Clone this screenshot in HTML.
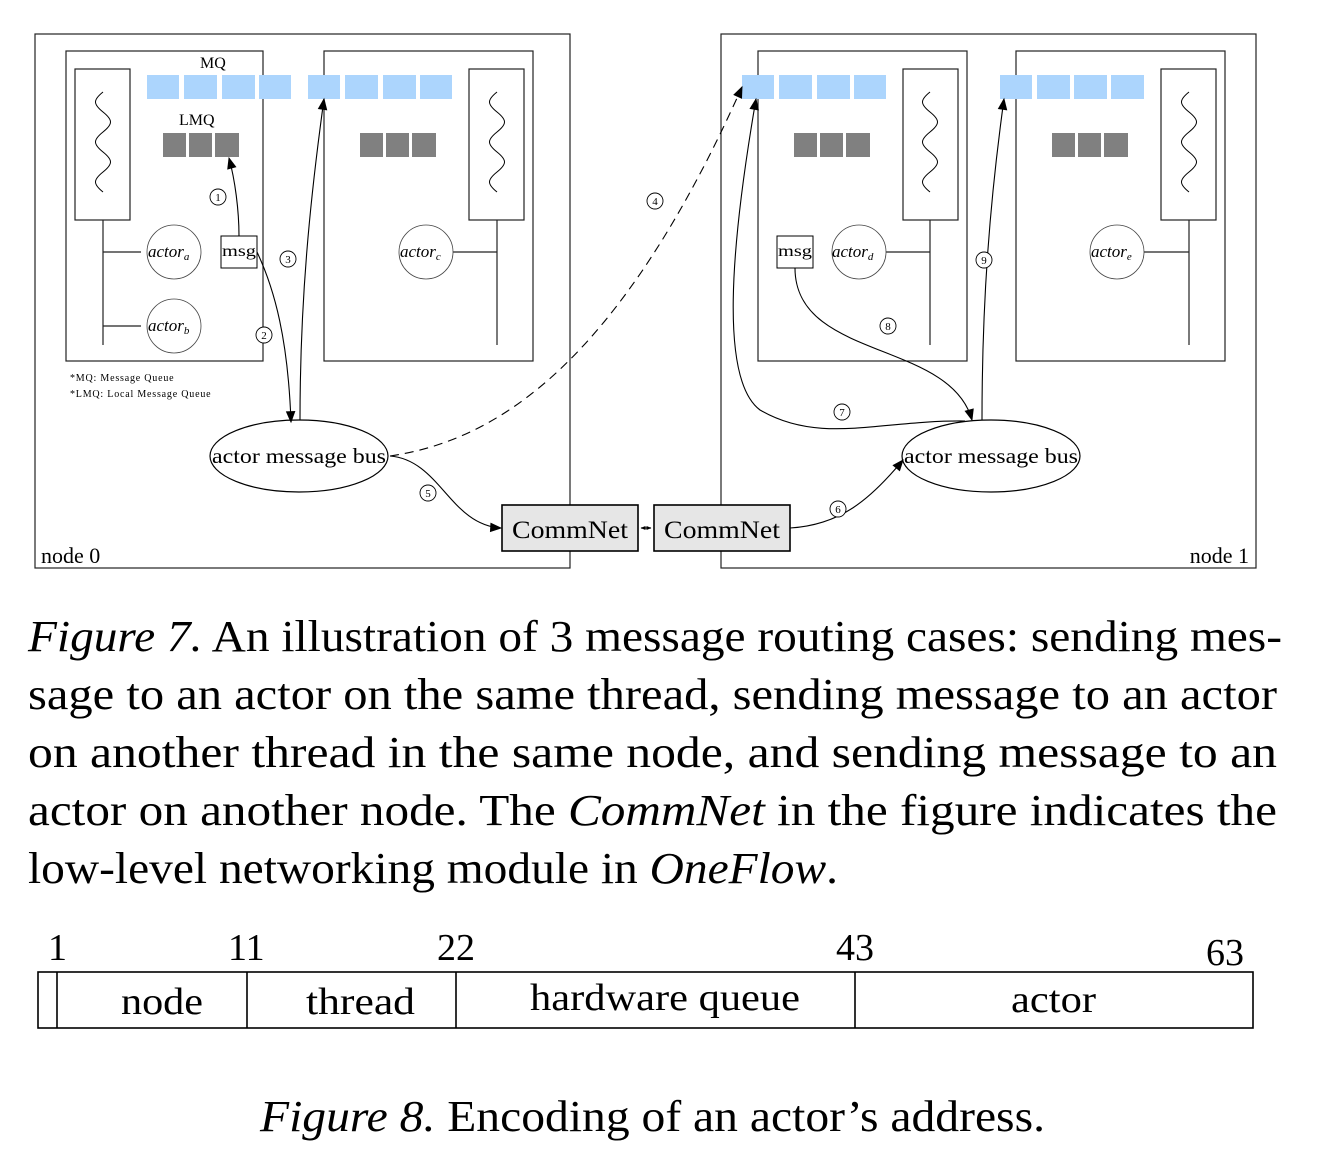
<!DOCTYPE html>
<html><head><meta charset="utf-8"><style>
html,body{margin:0;padding:0;background:#fff;}
svg{display:block;}
text{font-family:"Liberation Serif",serif;fill:#000;}
</style></head><body>
<svg width="1328" height="1153" viewBox="0 0 1328 1153" xmlns="http://www.w3.org/2000/svg">
<defs>
<marker id="ah2" viewBox="0 0 10 10" refX="9" refY="5" markerWidth="14" markerHeight="12" markerUnits="userSpaceOnUse" orient="auto"><path d="M0,1 L10,5 L0,9 z" fill="#000"/></marker>
<marker id="sm" viewBox="0 0 10 10" refX="9" refY="5" markerWidth="5" markerHeight="5" markerUnits="userSpaceOnUse" orient="auto"><path d="M0,1 L10,5 L0,9 z" fill="#000"/></marker>
</defs>
<g fill="none" stroke="#222" stroke-width="1.2">
<rect x="35" y="34" width="535" height="534"/>
<rect x="721" y="34" width="535" height="534"/>
<rect x="66" y="51" width="197" height="310"/>
<rect x="324" y="51" width="209" height="310"/>
<rect x="758" y="51" width="209" height="310"/>
<rect x="1016" y="51" width="209" height="310"/>
<rect x="75" y="69" width="55" height="151"/>
<rect x="469" y="69" width="55" height="151"/>
<rect x="903" y="69" width="55" height="151"/>
<rect x="1161" y="69" width="55" height="151"/>
<path d="M103,220V345M103,252H141M103,326H141M497,220V345M452,252H497M930,220V345M885,252H930M1189,220V345M1143,252H1189"/>
</g>
<g fill="none" stroke="#000" stroke-width="1">
<path d="M103,92 c-10,8 -10,12 0,20 c10,8 10,12 0,20 c-10,8 -10,12 0,20 c10,8 10,12 0,20 c-10,8 -10,12 0,20"/>
<path d="M497,92 c-10,8 -10,12 0,20 c10,8 10,12 0,20 c-10,8 -10,12 0,20 c10,8 10,12 0,20 c-10,8 -10,12 0,20"/>
<path d="M930,92 c-10,8 -10,12 0,20 c10,8 10,12 0,20 c-10,8 -10,12 0,20 c10,8 10,12 0,20 c-10,8 -10,12 0,20"/>
<path d="M1189,92 c-10,8 -10,12 0,20 c10,8 10,12 0,20 c-10,8 -10,12 0,20 c10,8 10,12 0,20 c-10,8 -10,12 0,20"/>
</g>
<g fill="#acd5fd">
<rect x="147" y="75" width="32" height="24"/><rect x="184" y="75" width="33" height="24"/><rect x="222" y="75" width="33" height="24"/><rect x="259" y="75" width="32" height="24"/>
<rect x="308" y="75" width="32" height="24"/><rect x="345" y="75" width="33" height="24"/><rect x="383" y="75" width="33" height="24"/><rect x="420" y="75" width="32" height="24"/>
<rect x="742" y="75" width="32" height="24"/><rect x="779" y="75" width="33" height="24"/><rect x="817" y="75" width="33" height="24"/><rect x="854" y="75" width="32" height="24"/>
<rect x="1000" y="75" width="32" height="24"/><rect x="1037" y="75" width="33" height="24"/><rect x="1074" y="75" width="33" height="24"/><rect x="1111" y="75" width="33" height="24"/>
</g>
<g fill="#808080">
<rect x="163" y="133" width="23" height="24"/><rect x="189" y="133" width="23" height="24"/><rect x="215" y="133" width="24" height="24"/>
<rect x="360" y="133" width="23" height="24"/><rect x="386" y="133" width="23" height="24"/><rect x="412" y="133" width="24" height="24"/>
<rect x="794" y="133" width="23" height="24"/><rect x="820" y="133" width="23" height="24"/><rect x="846" y="133" width="24" height="24"/>
<rect x="1052" y="133" width="23" height="24"/><rect x="1078" y="133" width="23" height="24"/><rect x="1104" y="133" width="24" height="24"/>
</g>
<text x="200" y="68" font-size="16">MQ</text>
<text x="179" y="125" font-size="16">LMQ</text>
<g fill="#fff" stroke="#444" stroke-width="0.8">
<circle cx="174" cy="252" r="27"/><circle cx="174" cy="326" r="27"/><circle cx="426" cy="252" r="27"/><circle cx="859" cy="252" r="27"/><circle cx="1117" cy="252" r="27"/>
</g>
<g font-size="17" font-style="italic">
<text x="148" y="257">actor<tspan font-size="11" dy="3">a</tspan></text>
<text x="148" y="331">actor<tspan font-size="11" dy="3">b</tspan></text>
<text x="400" y="257">actor<tspan font-size="11" dy="3">c</tspan></text>
<text x="832" y="257">actor<tspan font-size="11" dy="3">d</tspan></text>
<text x="1091" y="257">actor<tspan font-size="11" dy="3">e</tspan></text>
</g>
<g fill="#fff" stroke="#000" stroke-width="1"><rect x="221" y="236" width="36" height="32"/><rect x="777" y="236" width="36" height="32"/></g>
<text x="222" y="256" font-size="16" textLength="34" lengthAdjust="spacingAndGlyphs">msg</text><text x="778" y="256" font-size="16" textLength="34" lengthAdjust="spacingAndGlyphs">msg</text>
<text x="70" y="381" font-size="10" letter-spacing="0.8">*MQ: Message Queue</text>
<text x="70" y="397" font-size="10" letter-spacing="0.8">*LMQ: Local Message Queue</text>
<g fill="#fff" stroke="#000" stroke-width="1.2"><ellipse cx="299" cy="456" rx="89" ry="36"/><ellipse cx="991" cy="456" rx="89" ry="36"/></g>
<text x="212" y="463" font-size="21" textLength="174" lengthAdjust="spacingAndGlyphs">actor message bus</text>
<text x="904" y="463" font-size="21" textLength="174" lengthAdjust="spacingAndGlyphs">actor message bus</text>
<g fill="#e6e6e6" stroke="#000" stroke-width="1.6"><rect x="502" y="505" width="136" height="46"/><rect x="654" y="505" width="136" height="46"/></g>
<text x="512" y="538" font-size="25" textLength="116" lengthAdjust="spacingAndGlyphs">CommNet</text>
<text x="664" y="538" font-size="25" textLength="116" lengthAdjust="spacingAndGlyphs">CommNet</text>
<text x="41" y="563" font-size="22">node 0</text>
<text x="1249" y="563" font-size="22" text-anchor="end">node 1</text>
<g fill="none" stroke="#000" stroke-width="1.1">
<path d="M239,236 C239,210 235,180 229,158" marker-end="url(#ah2)"/>
<path d="M257,252 C275,290 288,340 291,422" marker-end="url(#ah2)"/>
<path d="M300,420 C300,300 310,200 324,99" marker-end="url(#ah2)"/>
<path d="M390,456 C500,440 620,360 742,87" stroke-dasharray="9,6" marker-end="url(#ah2)"/>
<path d="M390,456 C440,460 450,525 501,528" marker-end="url(#ah2)"/>
<path d="M790,528 C840,525 870,500 903,460" marker-end="url(#ah2)"/>
<path d="M965,421 C880,420 820,445 760,410 C720,380 730,250 756,99" marker-end="url(#ah2)"/>
<path d="M795,268 C795,360 950,340 972,420" marker-end="url(#ah2)"/>
<path d="M982,420 C982,300 990,200 1004,99" marker-end="url(#ah2)"/>
<path d="M641,528 H651" marker-end="url(#sm)"/>
<path d="M651,528 H641" marker-end="url(#sm)"/>
</g>
<g fill="#fff" stroke="#000" stroke-width="0.9">
<circle cx="218" cy="197" r="8"/><circle cx="264" cy="335" r="8"/><circle cx="288" cy="259" r="8"/><circle cx="655" cy="201" r="8"/><circle cx="428" cy="493" r="8"/><circle cx="838" cy="509" r="8"/><circle cx="842" cy="412" r="8"/><circle cx="888" cy="326" r="8"/><circle cx="984" cy="260" r="8"/>
</g>
<g font-size="11" text-anchor="middle">
<text x="218" y="201">1</text><text x="264" y="339">2</text><text x="288" y="263">3</text><text x="655" y="205">4</text><text x="428" y="497">5</text><text x="838" y="513">6</text><text x="842" y="416">7</text><text x="888" y="330">8</text><text x="984" y="264">9</text>
</g>
<g font-size="44">
<text x="28" y="651" textLength="1254" lengthAdjust="spacingAndGlyphs"><tspan font-style="italic">Figure 7.</tspan> An illustration of 3 message routing cases: sending mes-</text>
<text x="28" y="709" textLength="1249" lengthAdjust="spacingAndGlyphs">sage to an actor on the same thread, sending message to an actor</text>
<text x="28" y="767" textLength="1249" lengthAdjust="spacingAndGlyphs">on another thread in the same node, and sending message to an</text>
<text x="28" y="825" textLength="1249" lengthAdjust="spacingAndGlyphs">actor on another node.  The <tspan font-style="italic">CommNet</tspan> in the figure indicates the</text>
<text x="28" y="883" textLength="810" lengthAdjust="spacingAndGlyphs">low-level networking module in <tspan font-style="italic">OneFlow</tspan>.</text>
</g>
<g fill="none" stroke="#000" stroke-width="1.6">
<rect x="38" y="972" width="1215" height="56"/>
<path d="M57,972V1028M247,972V1028M456,972V1028M855,972V1028"/>
</g>
<g font-size="38">
<text x="48" y="960">1</text><text x="228" y="960">11</text><text x="437" y="960">22</text><text x="836" y="960">43</text><text x="1206" y="965">63</text>
<text x="121" y="1014" textLength="82" lengthAdjust="spacingAndGlyphs">node</text>
<text x="306" y="1014" textLength="109" lengthAdjust="spacingAndGlyphs">thread</text>
<text x="530" y="1010" textLength="270" lengthAdjust="spacingAndGlyphs">hardware queue</text>
<text x="1011" y="1012" textLength="85" lengthAdjust="spacingAndGlyphs">actor</text>
</g>
<text x="260" y="1131" font-size="44" textLength="785" lengthAdjust="spacingAndGlyphs"><tspan font-style="italic">Figure 8.</tspan> Encoding of an actor’s address.</text>
</svg>
</body></html>
